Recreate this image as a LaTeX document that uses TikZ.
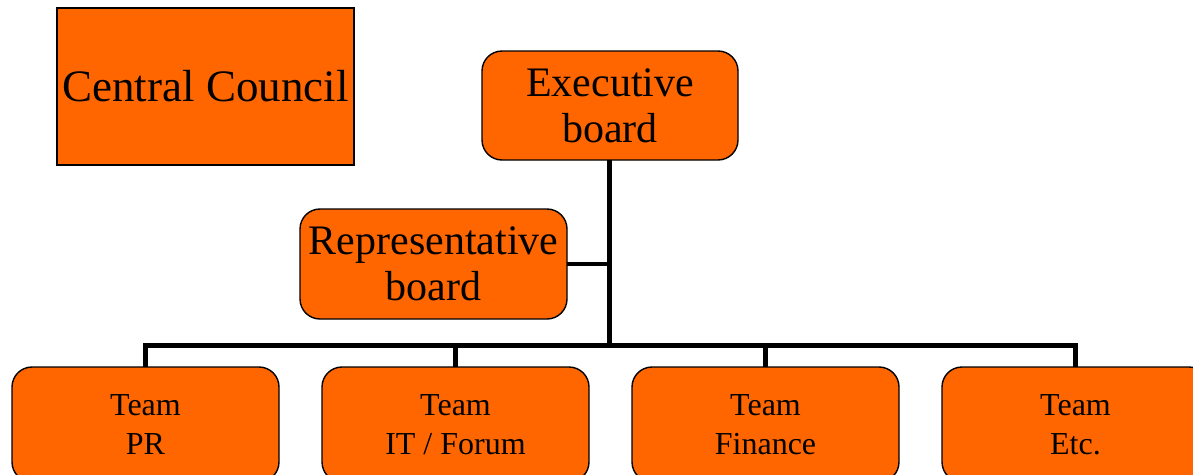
\documentclass[tikz,border=0pt]{standalone}
\usepackage{fontspec}
\setmainfont{Liberation Serif}
\definecolor{boxorange}{HTML}{FF6600}
\begin{document}
\begin{tikzpicture}[x=1pt,y=-1pt,
  box/.style={draw=black,line width=1.4pt,fill=boxorange,text=black,align=center,inner sep=0pt,outer sep=0pt},
  rbox/.style={box,rounded corners=20pt},
  big/.style={font=\fontsize{42}{46}\selectfont},
  team/.style={rbox,minimum width=267pt,minimum height=115pt,font=\fontsize{32}{39}\selectfont},
  conn/.style={line width=5pt,draw=black},
  thinconn/.style={line width=4pt,draw=black}]
\useasboundingbox (0,0) rectangle (1193,474);
\clip (0,0) rectangle (1193,474);
\node[box,minimum width=297pt,minimum height=157pt,font=\fontsize{45}{50}\selectfont] (cc) at (205.5,86.5) {Central Council};
\node[rbox,big,minimum width=256pt,minimum height=109pt] (exec) at (610,105.5) {Executive\\board};
\node[rbox,big,minimum width=267pt,minimum height=110pt] (rep) at (433.5,264) {Representative\\board};
\node[team] (t1) at (145.5,424.5) {Team\\PR};
\node[team] (t2) at (455.5,424.5) {Team\\IT / Forum};
\node[team] (t3) at (765.5,424.5) {Team\\Finance};
\node[team] (t4) at (1075.5,424.5) {Team\\Etc.};
\coordinate (j) at (609,345);
\draw[conn] (exec.south -| j) -- (j);
\draw[conn,line join=miter] (t1.north) |- (j) -| (t4.north);
\draw[conn] (t2.north) -- (t2.north |- j);
\draw[conn] (t3.north) -- (t3.north |- j);
\draw[thinconn] (rep.east) -- (rep.east -| j);
\end{tikzpicture}
\end{document}
